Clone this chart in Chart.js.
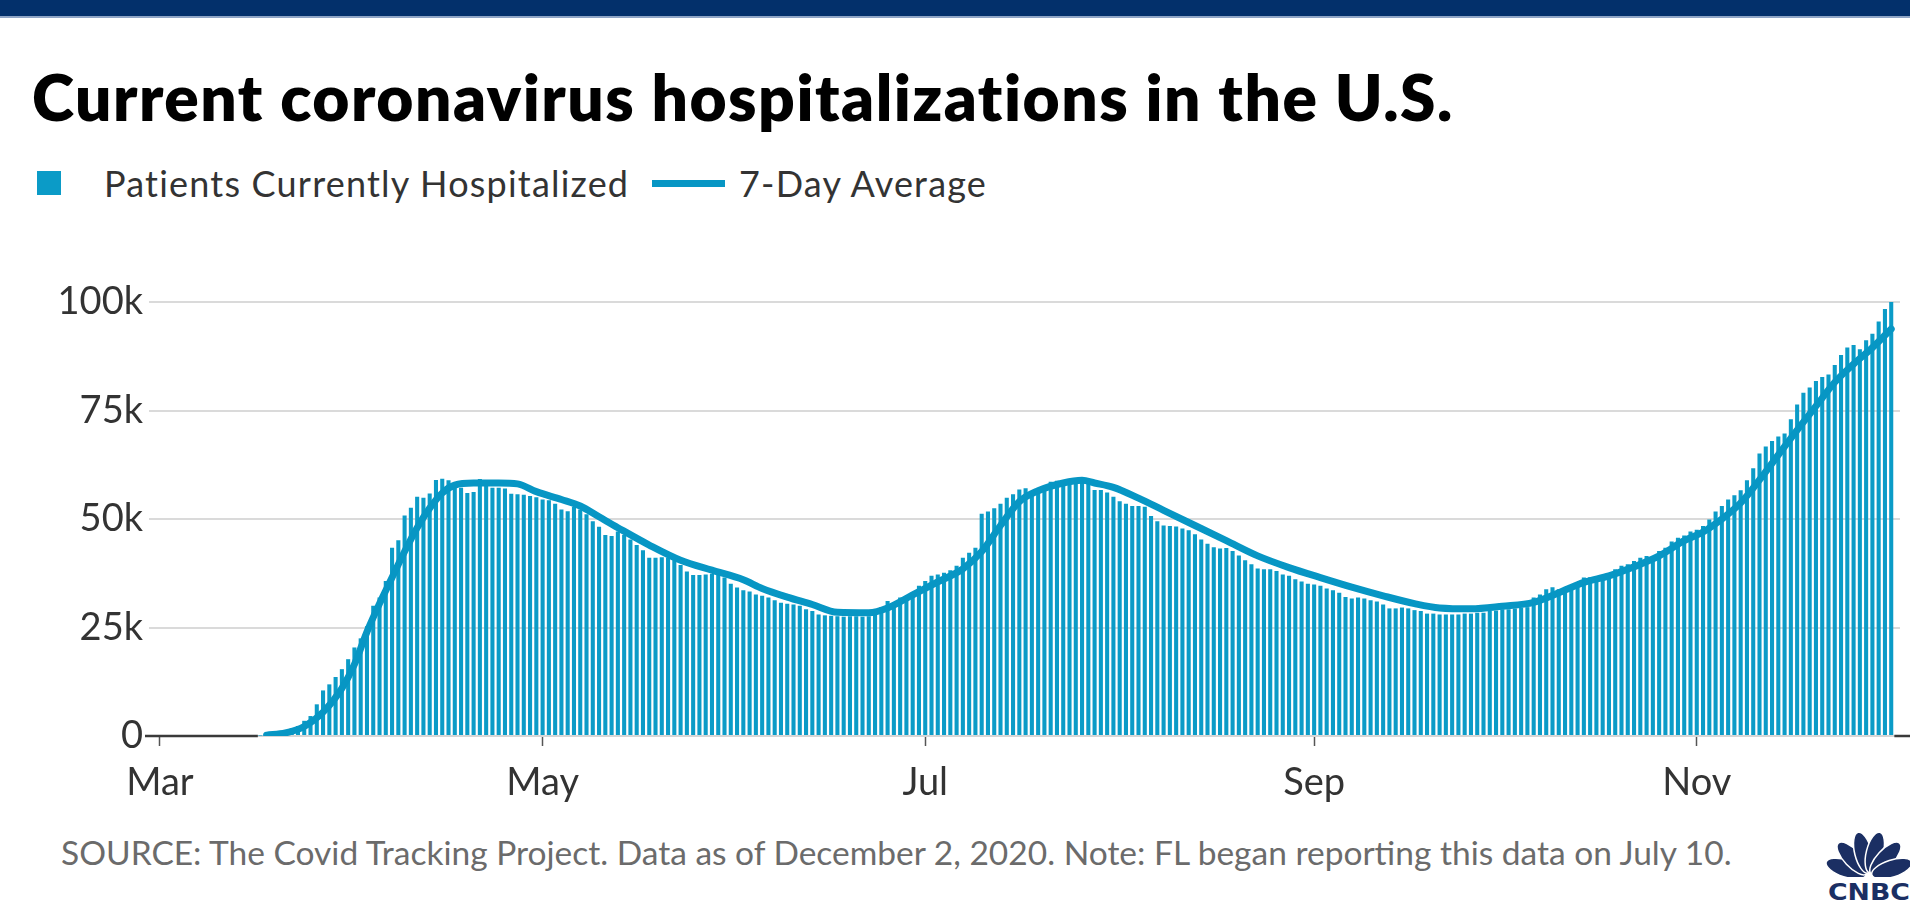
<!DOCTYPE html>
<html>
<head>
<meta charset="utf-8">
<title>Current coronavirus hospitalizations in the U.S.</title>
<script src="https://cdn.jsdelivr.net/npm/chart.js@4.4.0/dist/chart.umd.min.js"></script>
<style>
  html, body { margin: 0; padding: 0; background: #fff; }
  body { width: 1910px; height: 903px; position: relative; overflow: hidden; font-family: Lato, "Open Sans", sans-serif; }
  .topbar { position: absolute; left: 0; top: 0; width: 1910px; height: 16px; background: #03306b; border-bottom: 2px solid #8fa5c6; }
  h1 { position: absolute; left: 32px; top: 65px; margin: 0; font-size: 64px; line-height: 64px; font-weight: 800; letter-spacing: 1.5px; color: #000; white-space: nowrap; }
  .lg { position: absolute; top: 165px; font-size: 36px; line-height: 36px; letter-spacing: 1.2px; color: #333; white-space: nowrap; }
  .lgbox { position: absolute; left: 37px; top: 171px; width: 24px; height: 24px; background: #0b9bc7; }
  .lgline { position: absolute; left: 652px; top: 180px; width: 73px; height: 7px; background: #0796c4; }
  .source { position: absolute; left: 61px; top: 835px; font-size: 33.5px; line-height: 34px; color: #6b6b6b; white-space: nowrap; }
  #chartBox { position: absolute; left: 0; top: 250px; width: 1910px; height: 556px; }
  .logo { position: absolute; left: 1826px; top: 818px; }
</style>
</head>
<body>
<div class="topbar"></div>
<h1>Current coronavirus hospitalizations in the U.S.</h1>
<div class="lgbox"></div>
<div class="lg" style="left:104px">Patients Currently Hospitalized</div>
<div class="lgline"></div>
<div class="lg" style="left:739px">7-Day Average</div>
<div id="chartBox"><canvas id="chart" width="1910" height="556"></canvas></div>
<div class="source">SOURCE: The Covid Tracking Project. Data as of December 2, 2020. Note: FL began reporting this data on July 10.</div>
<svg class="logo" width="86" height="85" viewBox="0 0 86 85">
  <g fill="#1b2f63" stroke="#fff" stroke-width="1.5">
    <ellipse cx="43" cy="34" rx="8.5" ry="21" transform="rotate(-72 43 58)"/>
    <ellipse cx="43" cy="34" rx="8.5" ry="21" transform="rotate(-43 43 58)"/>
    <ellipse cx="43" cy="34" rx="8.5" ry="21" transform="rotate(-14 43 58)"/>
    <ellipse cx="43" cy="34" rx="8.5" ry="21" transform="rotate(14 43 58)"/>
    <ellipse cx="43" cy="34" rx="8.5" ry="21" transform="rotate(43 43 58)"/>
    <ellipse cx="43" cy="34" rx="8.5" ry="21" transform="rotate(72 43 58)"/>
  </g>
  <rect x="0" y="59" width="86" height="26" fill="#fff"/>
  <text x="2" y="82" textLength="82" lengthAdjust="spacingAndGlyphs" font-family="'DejaVu Sans', sans-serif" font-weight="bold" font-size="23" fill="#1b2f63">CNBC</text>
</svg>

<script>
// day 0 = March 1, 2020; values in thousands of patients
const hospitalized = [
  // Mar
  null, null, null, null, null, null, null, null, null, null,
  null, null, null, null, null, null,
  0.1, 0.15, 0.25, 0.5, 1.0, 1.8, 2.3, 3.5, 4.6, 7.3, 10.5, 11.9, 13.6, 15.4, 17.7,
  // Apr
  20.4, 22.5, 25.3, 30.0, 31.9, 35.7, 43.4, 45.1, 50.8, 52.6,
  55.1, 54.9, 55.9, 59.0, 59.3, 58.9, 57.6, 57.2, 56.0, 56.2,
  59.2, 57.6, 57.2, 57.2, 57.0, 55.8, 55.7, 55.6, 55.3, 55.0,
  // May
  54.5, 54.3, 53.5, 52.2, 51.8, 52.8, 52.2, 51.1, 49.5, 48.2,
  46.3, 46.1, 47.1, 46.3, 45.3, 44.0, 42.8, 41.1, 41.1, 41.2,
  41.1, 40.5, 39.4, 37.9, 37.1, 37.1, 37.2, 37.4, 37.1, 36.5, 35.1,
  // Jun
  34.2, 33.6, 33.3, 32.6, 32.3, 31.9, 31.3, 30.7, 30.5, 30.3,
  30.0, 29.2, 28.8, 28.0, 27.8, 27.7, 27.6, 27.5, 27.6, 27.6,
  27.5, 27.6, 28.0, 29.7, 31.1, 30.7, 31.9, 31.9, 33.0, 34.6,
  // Jul
  35.7, 36.9, 37.2, 37.6, 38.2, 39.2, 41.1, 42.2, 43.4, 51.2,
  51.7, 52.5, 53.5, 54.9, 55.7, 56.8, 57.1, 56.4, 57.1, 57.6,
  58.6, 58.8, 59.0, 59.0, 59.1, 59.1, 59.1, 56.7, 56.7, 56.1, 55.1,
  // Aug
  54.1, 53.5, 53.0, 53.0, 52.8, 50.7, 49.5, 48.5, 48.4, 48.3,
  47.8, 47.4, 46.5, 45.3, 44.3, 43.5, 43.2, 43.3, 42.6, 41.6,
  40.5, 39.6, 38.6, 38.4, 38.4, 38.0, 37.2, 36.9, 36.1, 35.6, 35.1,
  // Sep
  34.9, 34.6, 34.0, 33.6, 33.0, 32.0, 31.7, 31.9, 31.7, 31.3,
  31.0, 30.3, 29.4, 29.4, 29.6, 29.4, 29.0, 28.8, 28.2, 28.2,
  28.0, 28.0, 28.0, 28.0, 28.2, 28.2, 28.4, 28.4, 28.8, 28.9,
  // Oct
  29.2, 29.2, 29.4, 29.6, 29.7, 31.9, 32.6, 33.8, 34.3, 33.8,
  34.0, 34.6, 35.3, 36.5, 36.6, 36.5, 36.9, 37.2, 38.4, 39.2,
  39.6, 40.3, 41.1, 41.5, 41.3, 42.6, 43.4, 44.8, 45.7, 46.2, 47.1,
  // Nov
  47.5, 48.4, 49.9, 51.7, 53.0, 54.5, 55.5, 56.6, 58.9, 61.7,
  65.1, 66.7, 68.0, 69.0, 69.7, 73.0, 76.4, 79.1, 80.3, 81.8,
  82.7, 83.3, 85.5, 87.8, 89.5, 90.1, 89.1, 91.2, 92.7, 95.5,
  // Dec
  98.4, 100.2
];

const avgDays = [17, 20, 23, 26, 29, 31, 33, 35, 37, 39, 41, 43, 45, 47, 50, 54, 57, 60,
  64, 67, 70, 73, 78, 83, 88, 93, 96, 100, 104, 108, 113, 116, 120, 124, 128, 131, 134,
  137, 140, 144, 147, 149, 152, 156, 160, 165, 170, 175, 180, 185, 190, 195, 200, 204,
  209, 214, 219, 223, 227, 231, 235, 239, 243, 246, 249, 252, 255, 258, 261, 264, 267,
  270, 273, 276];
const avgValues = [0.2, 0.7, 2.2, 5.5, 11.0, 16.5, 24.0, 30.5, 36.5, 42.5, 48.0, 52.5, 56.0, 57.8, 58.3, 58.3, 58.1, 56.3,
  54.5, 53.0, 50.5, 48.0, 44.0, 40.5, 38.2, 36.0, 34.0, 32.0, 30.3, 28.5, 28.4, 29.5, 32.5, 35.5, 38.5, 42.5, 48.5,
  54.0, 56.5, 58.3, 58.9, 58.3, 57.3, 54.8, 52.0, 48.5, 45.0, 41.5, 38.8, 36.5, 34.3, 32.3, 30.5, 29.5,
  29.3, 29.9, 30.8, 33.0, 35.4, 36.9, 39.0, 41.5, 45.0, 47.0, 50.0, 53.7, 59.0, 64.8, 70.5, 76.0, 81.5,
  85.7, 89.5, 93.8];

const tickDays = [0, 61, 122, 184, 245];
const tickLabels = ['Mar', 'May', 'Jul', 'Sep', 'Nov'];
const yTicks = [0, 25, 50, 75, 100];

const barColor = '#0b9bc7';
const lineColor = '#0796c4';

// dark axis stub where there is no data yet
const zeroStub = {
  id: 'zeroStub',
  beforeDatasetsDraw(chart) {
    const { ctx, chartArea, scales } = chart;
    const first = hospitalized.findIndex(v => v !== null);
    const last = hospitalized.length - 1;
    const y0 = scales.y.getPixelForValue(0);
    ctx.save();
    ctx.strokeStyle = '#3a3a3a';
    ctx.lineWidth = 2.5;
    ctx.beginPath();
    ctx.moveTo(chartArea.left - 4, y0);
    ctx.lineTo(scales.x.getPixelForValue(first - 0.4), y0);
    ctx.moveTo(scales.x.getPixelForValue(last + 0.5), y0);
    ctx.lineTo(chart.width, y0);
    ctx.stroke();
    ctx.restore();
  }
};

function draw() {
  const ctx = document.getElementById('chart').getContext('2d');
  new Chart(ctx, {
    type: 'bar',
    data: {
      datasets: [{
        type: 'line',
        label: '7-Day Average',
        data: avgDays.map((d, i) => ({ x: d, y: avgValues[i] })),
        borderColor: lineColor,
        borderWidth: 7,
        pointRadius: 0,
        cubicInterpolationMode: 'monotone',
        borderCapStyle: 'round',
        borderJoinStyle: 'round',
        fill: false,
        order: 0
      }, {
        label: 'Patients Currently Hospitalized',
        data: hospitalized.map((v, i) => ({ x: i, y: v })),
        backgroundColor: barColor,
        barPercentage: 0.65,
        categoryPercentage: 1,
        order: 1
      }]
    },
    options: {
      responsive: false,
      devicePixelRatio: 1,
      animation: false,
      layout: { padding: { top: 52, right: 10, left: 0, bottom: 0 } },
      plugins: { legend: { display: false }, tooltip: { enabled: false } },
      scales: {
        x: {
          type: 'linear',
          min: -1.75,
          max: 277.4,
          offset: false,
          afterBuildTicks: s => { s.ticks = tickDays.map(v => ({ value: v })); },
          afterFit: s => { s.height = 70; s.paddingLeft = 0; s.paddingRight = 0; },
          grid: { offset: false, drawOnChartArea: false, drawTicks: true, tickLength: 10, tickColor: '#555', tickWidth: 1.5 },
          border: { display: true, color: '#d6d6d6', width: 2 },
          ticks: {
            autoSkip: false,
            maxRotation: 0,
            padding: 14,
            color: '#333',
            font: { family: 'Lato', size: 38 },
            callback: (v, i) => tickLabels[i]
          }
        },
        y: {
          min: 0,
          max: 100,
          afterBuildTicks: s => { s.ticks = yTicks.map(v => ({ value: v })); },
          afterFit: s => { s.width = 149; s.paddingTop = 0; s.paddingBottom = 0; },
          grid: { color: '#dadada', lineWidth: 2, drawTicks: false },
          border: { display: false },
          ticks: {
            padding: 6,
            color: '#333',
            font: { family: 'Lato', size: 38 },
            callback: v => v === 0 ? '0' : v + 'k'
          }
        }
      }
    },
    plugins: [zeroStub]
  });
}

document.fonts.load('38px Lato').then(draw, draw);
</script>
</body>
</html>
